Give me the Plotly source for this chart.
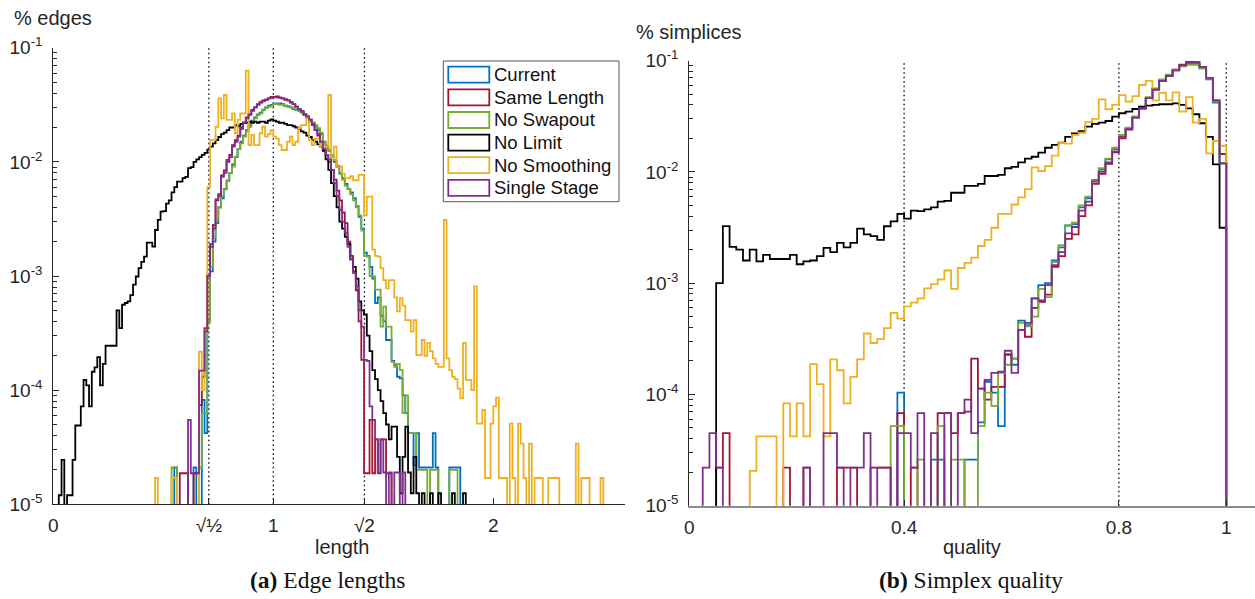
import plotly.graph_objects as go

# ---------------- data: left panel (edge lengths), bin width 0.0125 ----------------
EDGE_BIN = 0.0125
edge_current_start = 44
edge_current = [2.1e-5, 0, 0, 0, 0, 0, 0, 2.1e-5, 0, 0, 8.2e-5, 4.2e-5, 4.0e-4,
    1.1e-3, 2.0e-3, 2.9e-3, 4.0e-3, 4.8e-3, 5.8e-3, 6.8e-3, 8.0e-3, 9.5e-3, 1.1e-2,
    1.3e-2, 1.5e-2, 1.7e-2, 1.9e-2, 2.1e-2, 2.3e-2, 2.45e-2, 2.6e-2, 2.7e-2, 2.85e-2,
    3.0e-2, 3.1e-2, 3.15e-2, 3.2e-2, 3.25e-2, 3.25e-2, 3.2e-2, 3.1e-2, 3.05e-2, 3.0e-2,
    2.9e-2, 2.85e-2, 2.8e-2, 2.7e-2, 2.6e-2, 2.45e-2, 2.3e-2, 2.2e-2, 2.05e-2, 1.9e-2,
    1.75e-2, 1.5e-2, 1.35e-2, 1.25e-2, 1.12e-2, 1.0e-2, 9.2e-3, 8.0e-3, 7.2e-3, 6.4e-3,
    5.8e-3, 5.4e-3, 4.8e-3, 4.1e-3, 3.3e-3, 2.6e-3, 1.6e-3, 1.5e-3, 1.2e-3, 9.5e-4,
    5.8e-4, 6.5e-4, 4.5e-4, 4.0e-4, 2.75e-4, 2.75e-4, 1.8e-4, 1.67e-4, 1.31e-4, 1.27e-4,
    9.0e-5, 6.3e-5, 4.2e-5, 4.2e-5, 2.2e-5, 4.2e-5, 2.1e-5, 2.1e-5, 2.1e-5, 2.1e-5,
    2.1e-5, 4.2e-5, 2.1e-5, 0, 0, 0, 0, 2.1e-5, 2.1e-5, 2.1e-5, 2.1e-5]
edge_same_start = 46
edge_same = [1.87e-5, 1.87e-5, 1.87e-5, 0, 0, 1.87e-5, 1.87e-5, 7.4e-5, 1.31e-4, 3.5e-4,
    1.0e-3, 1.9e-3, 2.8e-3, 4.6e-3, 5.2e-3, 7.6e-3, 8.4e-3, 1.0e-2, 1.15e-2, 1.4e-2,
    1.55e-2, 1.7e-2, 1.95e-2, 2.2e-2, 2.45e-2, 2.6e-2, 2.85e-2, 3.0e-2, 3.2e-2, 3.3e-2,
    3.45e-2, 3.5e-2, 3.6e-2, 3.7e-2, 3.7e-2, 3.75e-2, 3.65e-2, 3.6e-2, 3.5e-2, 3.45e-2,
    3.3e-2, 3.2e-2, 3.05e-2, 2.9e-2, 2.75e-2, 2.6e-2, 2.45e-2, 2.3e-2, 2.1e-2, 1.9e-2,
    1.7e-2, 1.5e-2, 1.3e-2, 1.15e-2, 1.0e-2, 8.5e-3, 7.0e-3, 5.6e-3, 4.6e-3, 3.6e-3,
    2.9e-3, 2.0e-3, 1.5e-3, 1.1e-3, 7.5e-4, 4.0e-4, 1.84e-4, 1.87e-5, 1.87e-5, 5.5e-5,
    1.87e-5, 3.7e-5, 1.87e-5, 3.7e-5, 3.7e-5, 1.87e-5, 1.87e-5]
edge_noswap_start = 43
edge_noswap = [2.1e-5, 2.1e-5, 0, 0, 0, 0, 0, 0, 0, 0, 2.1e-5, 6.3e-5, 6.3e-5, 3.9e-4,
    1.2e-3, 2.2e-3, 3.1e-3, 4.0e-3, 5.0e-3, 5.7e-3, 6.9e-3, 8.0e-3, 9.1e-3, 1.11e-2,
    1.3e-2, 1.45e-2, 1.66e-2, 1.85e-2, 2.03e-2, 2.25e-2, 2.4e-2, 2.57e-2, 2.66e-2, 2.88e-2,
    2.95e-2, 3.04e-2, 3.1e-2, 3.21e-2, 3.2e-2, 3.15e-2, 3.15e-2, 3.1e-2, 3.09e-2, 3.0e-2,
    2.94e-2, 2.9e-2, 2.8e-2, 2.75e-2, 2.6e-2, 2.5e-2, 2.33e-2, 2.2e-2, 2.1e-2, 1.97e-2,
    1.8e-2, 1.5e-2, 1.4e-2, 1.27e-2, 1.15e-2, 1.04e-2, 9.0e-3, 7.8e-3, 7.0e-3, 6.2e-3,
    5.8e-3, 5.2e-3, 4.6e-3, 4.0e-3, 3.4e-3, 2.5e-3, 1.5e-3, 1.48e-3, 1.0e-3, 9.9e-4,
    7.6e-4, 7.6e-4, 3.6e-4, 5.4e-4, 3.6e-4, 3.6e-4, 1.77e-4, 1.6e-4, 1.7e-4, 1.5e-4,
    6.3e-5, 9.0e-5, 4.2e-5, 4.2e-5, 4.2e-5, 2.0e-5, 2.0e-5, 2.0e-5, 2.0e-5, 0, 2.0e-5,
    2.0e-5, 2.0e-5, 0, 0, 0, 0, 2.0e-5, 2.0e-5, 2.0e-5]
edge_nolimit_start = 2
edge_nolimit = [1.2e-5, 2.45e-5, 0, 1.2e-5, 1.2e-5, 2.45e-5, 4.9e-5, 4.9e-5, 7.2e-5,
    1.23e-4, 1.1e-4, 7.2e-5, 1.45e-4, 1.58e-4, 1.95e-4, 1.1e-4, 1.7e-4, 2.45e-4, 2.45e-4,
    2.45e-4, 2.45e-4, 5.0e-4, 3.5e-4, 5.6e-4, 5.8e-4, 6.0e-4, 6.8e-4, 8.4e-4, 9.9e-4,
    1.17e-3, 1.33e-3, 1.48e-3, 1.96e-3, 1.96e-3, 1.81e-3, 2.53e-3, 3.1e-3, 3.66e-3,
    3.7e-3, 4.3e-3, 4.6e-3, 5.4e-3, 6.0e-3, 6.7e-3, 6.7e-3, 7.2e-3, 7.4e-3, 8.8e-3,
    9.0e-3, 1.0e-2, 1.05e-2, 1.1e-2, 1.15e-2, 1.2e-2, 1.28e-2, 1.36e-2, 1.45e-2, 1.55e-2,
    1.65e-2, 1.75e-2, 1.8e-2, 1.9e-2, 2.0e-2, 2.0e-2, 2.1e-2, 2.05e-2, 2.15e-2, 2.2e-2,
    2.2e-2, 2.25e-2, 2.2e-2, 2.25e-2, 2.2e-2, 2.25e-2, 2.25e-2, 2.2e-2, 2.3e-2, 2.35e-2,
    2.3e-2, 2.25e-2, 2.2e-2, 2.2e-2, 2.15e-2, 2.1e-2, 2.1e-2, 2.05e-2, 2.0e-2, 1.95e-2,
    1.85e-2, 1.8e-2, 1.7e-2, 1.65e-2, 1.55e-2, 1.5e-2, 1.42e-2, 1.36e-2, 1.25e-2, 1.05e-2,
    8.5e-3, 6.5e-3, 5.0e-3, 4.0e-3, 3.0e-3, 2.6e-3, 2.2e-3, 1.9e-3, 1.4e-3, 1.2e-3,
    9.5e-4, 6.0e-4, 5.0e-4, 4.6e-4, 3.0e-4, 2.2e-4, 1.5e-4, 1.25e-4, 1.0e-4, 8.0e-5,
    6.3e-5, 5.0e-5, 3.7e-5, 4.8e-5, 4.8e-5, 2.6e-5, 1.25e-5, 2.6e-5, 4.8e-5, 1.9e-5,
    1.25e-5, 2.6e-5, 1.25e-5, 0, 1.25e-5, 0, 0, 1.25e-5, 0, 0, 1.25e-5, 0, 0, 0, 0,
    1.25e-5, 0, 0, 0, 1.25e-5]
edge_nosmooth_start = 37
edge_nosmooth = [1.7e-5, 0, 0, 0, 0, 0, 1.7e-5, 1.7e-5, 0, 0, 0, 0, 0, 0, 0, 0,
    2.17e-4, 1.0e-4, 3.16e-4, 6.0e-3, 1.55e-2, 1.55e-2, 2.03e-2, 3.6e-2, 2.4e-2, 3.85e-2,
    2.33e-2, 2.33e-2, 2.66e-2, 1.78e-2, 2.33e-2, 2.66e-2, 2.66e-2, 6.3e-2, 1.4e-2, 1.72e-2,
    1.4e-2, 1.4e-2, 1.78e-2, 2.03e-2, 1.66e-2, 1.75e-2, 1.9e-2, 1.66e-2, 1.6e-2, 1.4e-2,
    1.27e-2, 1.27e-2, 1.5e-2, 1.66e-2, 1.4e-2, 1.5e-2, 1.97e-2, 2.1e-2, 2.1e-2, 2.49e-2,
    1.55e-2, 1.4e-2, 1.6e-2, 1.6e-2, 1.36e-2, 1.36e-2, 1.36e-2, 3.85e-2, 1.04e-2, 1.36e-2,
    9.1e-3, 9.1e-3, 7.9e-3, 7.2e-3, 7.2e-3, 7.5e-3, 6.9e-3, 6.9e-3, 7.7e-3, 7.7e-3,
    3.4e-3, 4.95e-3, 4.95e-3, 1.7e-3, 1.5e-3, 1.48e-3, 1.17e-3, 9.2e-4, 7.8e-4, 9.2e-4,
    9.2e-4, 6.5e-4, 4.9e-4, 6.4e-4, 5.5e-4, 4.1e-4, 4.1e-4, 3.25e-4, 4.1e-4, 2.03e-4,
    2.03e-4, 2.75e-4, 2.0e-4, 2.6e-4, 2.2e-4, 1.9e-4, 1.7e-4, 1.6e-4, 1.6e-4, 3.1e-3,
    1.9e-4, 1.5e-4, 1.31e-4, 1.25e-4, 1.03e-4, 8.5e-5, 2.6e-4, 1.23e-4, 1.23e-4, 1.0e-4,
    8.1e-4, 5.1e-5, 5.1e-5, 6.7e-5, 1.7e-5, 1.7e-5, 5.1e-5, 7.2e-5, 8.6e-5, 1.7e-5,
    1.7e-5, 1.7e-5, 0, 5.1e-5, 1.7e-5, 0, 5.1e-5, 3.4e-5, 1.7e-5, 0, 3.4e-5, 0, 1.7e-5,
    1.7e-5, 1.7e-5, 0, 0, 1.7e-5, 1.7e-5, 1.7e-5, 1.7e-5, 0, 0, 0, 0, 0, 0, 3.4e-5, 0,
    1.7e-5, 1.7e-5, 1.7e-5, 0, 0, 0, 0, 1.7e-5]
edge_single_start = 49
edge_single = [5.5e-5, 1.87e-5, 1.87e-5, 1.87e-5, 1.48e-4, 1.48e-4, 3.25e-4, 1.0e-3,
    1.8e-3, 2.6e-3, 4.7e-3, 5.0e-3, 7.4e-3, 8.0e-3, 1.04e-2, 1.1e-2, 1.36e-2, 1.5e-2,
    1.66e-2, 2.0e-2, 2.2e-2, 2.4e-2, 2.6e-2, 2.8e-2, 3.0e-2, 3.15e-2, 3.35e-2, 3.4e-2,
    3.5e-2, 3.6e-2, 3.65e-2, 3.67e-2, 3.67e-2, 3.65e-2, 3.6e-2, 3.55e-2, 3.45e-2, 3.35e-2,
    3.2e-2, 3.05e-2, 2.9e-2, 2.8e-2, 2.6e-2, 2.5e-2, 2.35e-2, 2.15e-2, 1.9e-2, 1.75e-2,
    1.5e-2, 1.3e-2, 1.15e-2, 1.05e-2, 8.5e-3, 6.5e-3, 5.0e-3, 3.8e-3, 3.0e-3, 2.4e-3,
    1.8e-3, 1.4e-3, 1.06e-3, 8.1e-4, 5.0e-4, 3.6e-4, 1.84e-4, 1.8e-4, 7.2e-5, 5.5e-5,
    3.7e-5, 1.9e-5, 3.7e-5, 1.9e-5, 0, 1.9e-5, 0, 1.9e-5, 1.9e-5, 0, 1.9e-5]

# ---------------- data: right panel (simplex quality), 80 bins on [0, 1] ----------------
QUAL_BIN = 0.0125
qual_current = [0] * 31 + [1.04e-4, 0, 0, 0, 0, 2.6e-5, 2.6e-5, 0, 0, 0, 2.6e-5, 2.6e-5,
    5.6e-5, 1.3e-4, 1.04e-4, 5.2e-5, 2.3e-4, 1.85e-4, 4.6e-4, 4.2e-4, 7.3e-4, 9.6e-4,
    1.0e-3, 1.6e-3, 2.1e-3, 3.3e-3, 3.4e-3, 4.8e-3, 5.8e-3, 8.5e-3, 1.05e-2, 1.3e-2,
    1.6e-2, 2.1e-2, 2.45e-2, 3.1e-2, 3.7e-2, 4.6e-2, 5.6e-2, 6.7e-2, 7.4e-2, 8.2e-2,
    9.0e-2, 9.4e-2, 9.4e-2, 8.6e-2, 6.8e-2, 4.2e-2, 1.2e-2]
qual_same = [0, 0, 0, 0, 2.2e-5, 4.5e-5, 0, 0, 0, 0, 0, 0, 0, 0, 2.2e-5, 0, 0, 2.2e-5,
    0, 0, 0, 0, 2.2e-5, 2.2e-5, 2.2e-5, 0, 0, 2.2e-5, 2.2e-5, 2.2e-5, 0, 6.8e-5, 0,
    2.2e-5, 0, 0, 0, 6.8e-5, 6.8e-5, 4.5e-5, 6.8e-5, 7.0e-5, 2.1e-4, 1.13e-4, 9.0e-5,
    1.17e-4, 1.17e-4, 2.27e-4, 2.1e-4, 3.8e-4, 3.3e-4, 6.0e-4, 6.8e-4, 7.9e-4, 1.4e-3,
    1.75e-3, 2.5e-3, 2.75e-3, 4.0e-3, 5.0e-3, 7.8e-3, 9.6e-3, 1.18e-2, 1.5e-2, 2.0e-2,
    2.4e-2, 3.1e-2, 3.75e-2, 4.6e-2, 5.5e-2, 6.6e-2, 7.3e-2, 8.3e-2, 9.2e-2, 9.8e-2,
    9.7e-2, 8.8e-2, 7.0e-2, 4.4e-2, 1.45e-2]
qual_noswap = [0] * 30 + [5.2e-5, 5.2e-5, 0, 0, 2.6e-5, 0, 0, 5.2e-5, 0, 2.6e-5, 2.6e-5,
    0, 0, 5.2e-5, 1.04e-4, 7.9e-5, 1.56e-4, 1.85e-4, 2.1e-4, 4.4e-4, 4.1e-4, 5.0e-4,
    8.9e-4, 7.5e-4, 1.55e-3, 2.2e-3, 3.3e-3, 3.5e-3, 5.0e-3, 6.0e-3, 8.4e-3, 1.08e-2,
    1.32e-2, 1.65e-2, 2.15e-2, 2.5e-2, 3.15e-2, 3.8e-2, 4.7e-2, 5.6e-2, 6.8e-2, 7.5e-2,
    8.3e-2, 8.9e-2, 9.2e-2, 9.2e-2, 8.5e-2, 6.9e-2, 4.3e-2, 1.2e-2]
qual_nolimit = [0, 0, 0, 0, 1.0e-3, 3.26e-3, 2.12e-3, 2.0e-3, 1.6e-3, 2.0e-3, 1.57e-3,
    1.8e-3, 1.65e-3, 1.65e-3, 1.65e-3, 1.8e-3, 1.48e-3, 1.57e-3, 1.6e-3, 1.75e-3, 2.08e-3,
    1.9e-3, 2.3e-3, 2.1e-3, 2.3e-3, 3.1e-3, 2.75e-3, 2.65e-3, 2.45e-3, 3.25e-3, 3.6e-3,
    4.2e-3, 3.8e-3, 4.5e-3, 4.45e-3, 4.6e-3, 4.8e-3, 5.4e-3, 5.5e-3, 6.5e-3, 6.5e-3,
    7.5e-3, 7.5e-3, 7.8e-3, 9.2e-3, 9.2e-3, 9.4e-3, 1.08e-2, 1.11e-2, 1.22e-2, 1.32e-2,
    1.37e-2, 1.49e-2, 1.65e-2, 1.75e-2, 1.83e-2, 2.07e-2, 2.22e-2, 2.33e-2, 2.55e-2,
    2.7e-2, 2.77e-2, 2.87e-2, 3.14e-2, 3.37e-2, 3.48e-2, 3.68e-2, 3.86e-2, 3.94e-2,
    4.0e-2, 4.06e-2, 4.06e-2, 4.14e-2, 4.0e-2, 3.73e-2, 3.3e-2, 2.74e-2, 2.07e-2,
    1.17e-2, 3.15e-3]
qual_nosmooth = [0, 0, 0, 0, 0, 0, 0, 0, 0, 2.06e-5, 4.2e-5, 4.2e-5, 4.2e-5, 0, 8.3e-5,
    4.2e-5, 8.3e-5, 4.2e-5, 1.87e-4, 1.24e-4, 4.2e-5, 2.07e-4, 1.65e-4, 8.3e-5, 1.44e-4,
    2.07e-4, 3.53e-4, 2.9e-4, 3.14e-4, 3.95e-4, 5.4e-4, 4.8e-4, 6.2e-4, 6.7e-4, 7.3e-4,
    9.0e-4, 9.8e-4, 1.08e-3, 1.3e-3, 8.9e-4, 1.37e-3, 1.52e-3, 1.7e-3, 2.16e-3, 2.45e-3,
    3.15e-3, 4.2e-3, 4.2e-3, 5.1e-3, 5.9e-3, 7.0e-3, 1.1e-2, 1.02e-2, 1.13e-2, 1.4e-2,
    1.82e-2, 1.8e-2, 2.15e-2, 2.25e-2, 2.8e-2, 3.0e-2, 4.5e-2, 3.66e-2, 4.0e-2, 4.9e-2,
    4.3e-2, 4.8e-2, 6.05e-2, 6.6e-2, 4.4e-2, 5.15e-2, 4.4e-2, 5.2e-2, 3.48e-2, 4.7e-2,
    2.77e-2, 3.0e-2, 1.47e-2, 1.9e-2, 1.72e-2]
qual_single = [0, 0, 2.2e-5, 4.5e-5, 2.2e-5, 0, 0, 0, 0, 0, 0, 0, 0, 0, 0, 0, 0, 2.2e-5,
    0, 0, 4.5e-5, 4.5e-5, 2.2e-5, 0, 2.2e-5, 2.2e-5, 4.5e-5, 0, 2.2e-5, 2.2e-5, 0,
    4.5e-5, 4.5e-5, 2.2e-5, 6.8e-5, 0, 4.5e-5, 0, 6.8e-5, 0, 6.8e-5, 9.0e-5, 4.5e-5,
    1.13e-4, 1.35e-4, 1.56e-4, 1.6e-4, 2.47e-4, 1.56e-4, 3.8e-4, 4.4e-4, 7.3e-4, 7.0e-4,
    9.6e-4, 1.45e-3, 1.9e-3, 2.8e-3, 3.2e-3, 4.5e-3, 5.4e-3, 8.2e-3, 1.0e-2, 1.22e-2,
    1.52e-2, 2.07e-2, 2.43e-2, 3.08e-2, 3.73e-2, 4.6e-2, 5.5e-2, 6.6e-2, 7.3e-2, 8.2e-2,
    9.1e-2, 9.7e-2, 9.7e-2, 8.8e-2, 7.0e-2, 4.4e-2, 1.19e-2]

series_names = ["Current", "Same Length", "No Swapout", "No Limit", "No Smoothing", "Single Stage"]
series_colors = ["#0072BD", "#A2142F", "#77AC30", "#000000", "#EDB120", "#7E2F8E"]

edge_series = [(edge_current_start, edge_current), (edge_same_start, edge_same),
               (edge_noswap_start, edge_noswap), (edge_nolimit_start, edge_nolimit),
               (edge_nosmooth_start, edge_nosmooth), (edge_single_start, edge_single)]
qual_series = [(0, qual_current), (0, qual_same), (0, qual_noswap), (0, qual_nolimit),
               (0, qual_nosmooth), (0, qual_single)]

edge_ticks = [0, 0.5 ** 0.5, 1, 2 ** 0.5, 2]
edge_ticktext = ["0", "√½", "1", "√2", "2"]
qual_ticks = [0, 0.4, 0.8, 1]
qual_ticktext = ["0", "0.4", "0.8", "1"]
y_ticks = [1e-5, 1e-4, 1e-3, 1e-2, 1e-1]
y_ticktext = ["10<sup>-5</sup>", "10<sup>-4</sup>", "10<sup>-3</sup>", "10<sup>-2</sup>", "10<sup>-1</sup>"]
edge_refs = [0.5 ** 0.5, 1, 2 ** 0.5]
qual_refs = [0.4, 0.8, 1]

FLOOR = 1e-8  # empty bins go below the axis


def stairs(start, width, vals):
    edges = [(start + i) * width for i in range(len(vals) + 1)]
    ys = [v if v > 0 else FLOOR for v in vals]
    x = [edges[0]] + edges[:-1] + [edges[-1], edges[-1]]
    y = [FLOOR] + ys + [ys[-1], FLOOR]
    return x, y


W, H = 1255, 599
SANS = "Liberation Sans, Arial, Helvetica, sans-serif"
SERIF = "Liberation Serif, Times New Roman, serif"
AX = "#262626"


def px(xp):
    return xp / W


def py(yp):
    return 1 - yp / H


fig = go.Figure()
for (s, v), name, col in zip(edge_series, series_names, series_colors):
    x, y = stairs(s, EDGE_BIN, v)
    fig.add_trace(go.Scatter(x=x, y=y, mode="lines", line=dict(color=col, width=1.8, shape="hv"),
                             name=name, xaxis="x", yaxis="y", hoverinfo="skip"))
for (s, v), name, col in zip(qual_series, series_names, series_colors):
    x, y = stairs(s, QUAL_BIN, v)
    fig.add_trace(go.Scatter(x=x, y=y, mode="lines", line=dict(color=col, width=1.8, shape="hv"),
                             name=name, xaxis="x2", yaxis="y2", hoverinfo="skip"))

tickfont = dict(family=SANS, size=19, color=AX)
yaxis_common = dict(type="log", range=[-5, -1], tickmode="array", tickvals=y_ticks,
                    ticktext=y_ticktext, ticks="inside", ticklen=6, tickcolor=AX,
                    showline=True, linecolor=AX, linewidth=1, showgrid=False, zeroline=False,
                    tickfont=tickfont, ticklabelstandoff=6, automargin=False,
                    minor=dict(ticks="inside", ticklen=4, dtick="D1", tickcolor=AX, showgrid=False))

fig.update_layout(
    template="none",
    width=W, height=H, margin=dict(l=0, r=0, t=0, b=0, pad=0, autoexpand=False),
    paper_bgcolor="white", plot_bgcolor="white", showlegend=False,
    xaxis=dict(domain=[px(53.3), px(625.3)], range=[0, 2.6], tickmode="array",
               tickvals=edge_ticks, ticktext=edge_ticktext, ticks="inside", ticklen=6,
               tickcolor=AX, showline=True, linecolor=AX, linewidth=1, showgrid=False,
               zeroline=False, tickfont=tickfont, anchor="y", ticklabelstandoff=4,
               automargin=False),
    yaxis=dict(domain=[py(504.3), py(47.7)], anchor="x", **yaxis_common),
    xaxis2=dict(domain=[px(689.3), 1.0], range=[0, 1.0535], tickmode="array",
                tickvals=qual_ticks, ticktext=qual_ticktext, ticks="inside", ticklen=6,
                tickcolor=AX, showline=True, linecolor="#8c8c8c", linewidth=1.5, showgrid=False,
                zeroline=False, tickfont=tickfont, anchor="y2", ticklabelstandoff=4,
                automargin=False),
    yaxis2=dict(domain=[py(505.7), py(60.7)], anchor="x2", **yaxis_common),
)

shapes = []
for xv in edge_refs:
    shapes.append(dict(type="line", xref="x", yref="y domain", x0=xv, x1=xv, y0=0, y1=1,
                       line=dict(color="#000", width=1.3, dash="1.5px,3px"), layer="below"))
for xv in qual_refs:
    shapes.append(dict(type="line", xref="x2", yref="y2 domain", x0=xv, x1=xv, y0=0, y1=1,
                       line=dict(color="#000", width=1.3, dash="1.5px,3px"), layer="below"))

# legend box (MATLAB style, outlined patches)
shapes.append(dict(type="rect", xref="paper", yref="paper", x0=px(443.3), x1=px(619),
                   y0=py(201.7), y1=py(61), line=dict(color="#555", width=1),
                   fillcolor="white", layer="above"))
annotations = []
row_y = [74.7, 97.3, 120.0, 142.6, 165.2, 187.8]
for name, col, cy in zip(series_names, series_colors, row_y):
    shapes.append(dict(type="rect", xref="paper", yref="paper", x0=px(448.3), x1=px(489.3),
                       y0=py(cy + 8), y1=py(cy - 8), line=dict(color=col, width=1.8),
                       fillcolor="rgba(0,0,0,0)", layer="above"))
    annotations.append(dict(text=name, xref="paper", yref="paper", x=px(492), y=py(cy),
                            xanchor="left", yanchor="middle", showarrow=False,
                            font=dict(family=SANS, size=18.5, color="#111")))

annotations += [
    dict(text="% edges", x=px(12), y=py(18), xanchor="left", yanchor="middle"),
    dict(text="% simplices", x=px(634), y=py(32), xanchor="left", yanchor="middle"),
    dict(text="length", x=px(342), y=py(547), xanchor="center", yanchor="middle"),
    dict(text="quality", x=px(972), y=py(547), xanchor="center", yanchor="middle"),
]
for a in annotations[-4:]:
    a.update(xref="paper", yref="paper", showarrow=False, font=dict(family=SANS, size=20, color=AX))

annotations += [
    dict(text="<b>(a)</b> Edge lengths", x=px(327), y=py(580), xanchor="center", yanchor="middle",
         xref="paper", yref="paper", showarrow=False, font=dict(family=SERIF, size=23.5, color="#111")),
    dict(text="<b>(b)</b> Simplex quality", x=px(971), y=py(580), xanchor="center", yanchor="middle",
         xref="paper", yref="paper", showarrow=False, font=dict(family=SERIF, size=23.5, color="#111")),
]

fig.update_layout(shapes=shapes, annotations=annotations)
fig.write_html("out.html")
